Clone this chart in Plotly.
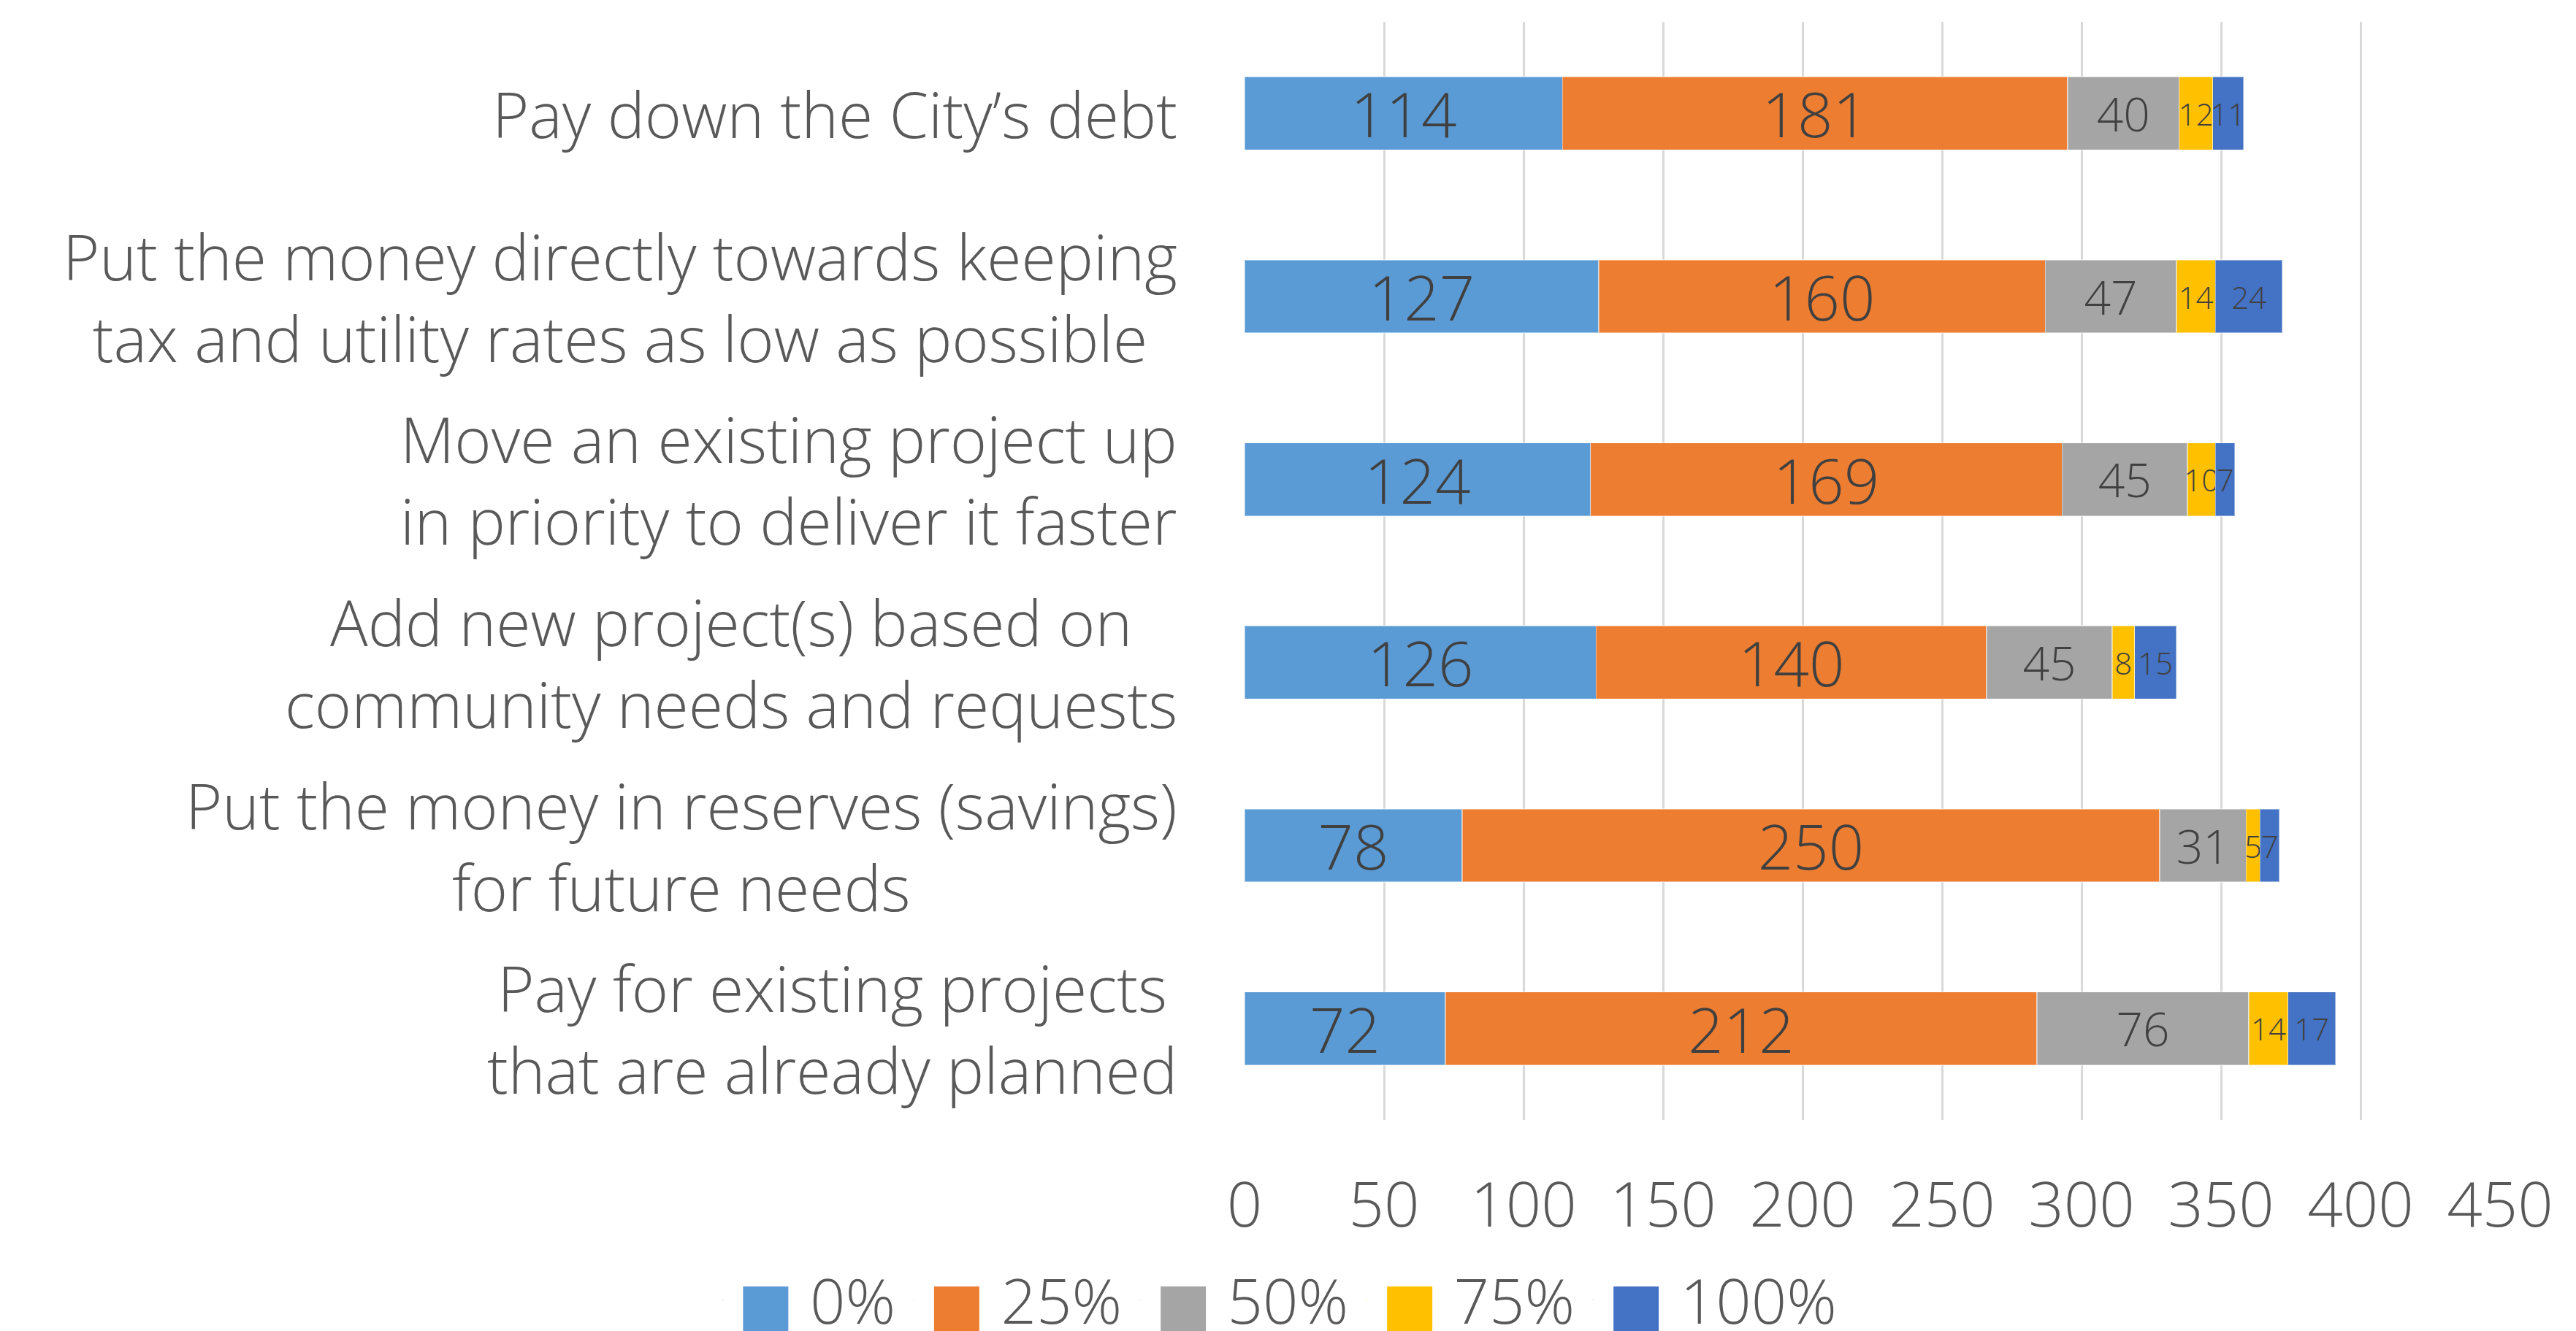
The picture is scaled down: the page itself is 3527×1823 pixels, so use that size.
import plotly.graph_objects as go

categories = [
    "Pay down the City’s debt",
    "Put the money directly towards keeping<br>tax and utility rates as low as possible",
    "Move an existing project up<br>in priority to deliver it faster",
    "Add new project(s) based on<br>community needs and requests",
    "Put the money in reserves (savings)<br>for future needs",
    "Pay for existing projects<br>that are already planned",
]
series_names = ["0%", "25%", "50%", "75%", "100%"]
v0 = [114, 127, 124, 126, 78, 72]
v25 = [181, 160, 169, 140, 250, 212]
v50 = [40, 47, 45, 45, 31, 76]
v75 = [12, 14, 10, 8, 5, 14]
v100 = [11, 24, 7, 15, 7, 17]
x_ticks = [0, 50, 100, 150, 200, 250, 300, 350, 400, 450]

values = [v0, v25, v50, v75, v100]
colors = ["#5B9BD5", "#ED7D31", "#A5A5A5", "#FFC000", "#4472C4"]
label_sizes = [85, 85, 64, 42, 42]

FONT = "Open Sans"
W, H = 3527, 1823

fig = go.Figure()
for name, vals, col, fs in zip(series_names, values, colors, label_sizes):
    fig.add_trace(go.Bar(
        name=name, y=categories, x=vals, orientation="h",
        marker=dict(color=col, line=dict(color="rgba(255,255,255,0.45)", width=1.5)),
        text=[str(v) for v in vals], textposition="inside", insidetextanchor="middle",
        textangle=0, constraintext="none", cliponaxis=False,
        textfont=dict(family=FONT, size=fs, color="#404040", weight=300),
        legendgroup=name, showlegend=False, hoverinfo="x+y+name",
    ))
# legend entries (grouped with bars so they toggle them)
for name, col in zip(series_names, colors):
    fig.add_trace(go.Scatter(
        x=[None], y=[None], mode="markers",
        marker=dict(size=1, opacity=0, color=col),
        name=(f'<span style="color:{col};font-size:128px;baseline-shift:-18px">■</span>'
              f' {name}'),
        legendgroup=name, showlegend=True, hoverinfo="skip",
    ))

for cat in categories:
    fig.add_annotation(
        x=0, xref="paper", y=cat, yref="y", text=cat, showarrow=False,
        xanchor="right", yanchor="middle", align="center", xshift=-90,
        font=dict(family=FONT, size=86, color="#595959", weight=300),
    )

fig.update_layout(
    width=W, height=H, barmode="stack", bargap=0.6,
    margin=dict(l=1696, r=112, t=22, b=297),
    paper_bgcolor="white", plot_bgcolor="white",
    font=dict(family=FONT, color="#595959", weight=300),
    xaxis=dict(range=[0, 450], tickvals=x_ticks, showgrid=True, gridcolor="#D9D9D9",
               gridwidth=3, zeroline=False, showline=False, ticks="",
               tickfont=dict(family=FONT, size=85, color="#595959", weight=300),
               ticklabelstandoff=60, fixedrange=True),
    yaxis=dict(autorange="reversed", showticklabels=False, showgrid=False,
               zeroline=False, showline=False, ticks=""),
    legend=dict(orientation="h", xref="container", yref="container",
                x=0.4925, xanchor="center", y=0.028, yanchor="middle",
                font=dict(family=FONT, size=85, color="#595959", weight=300),
                itemwidth=30, tracegroupgap=0, bgcolor="rgba(0,0,0,0)"),
    showlegend=True,
)

fig.write_html("out.html")
